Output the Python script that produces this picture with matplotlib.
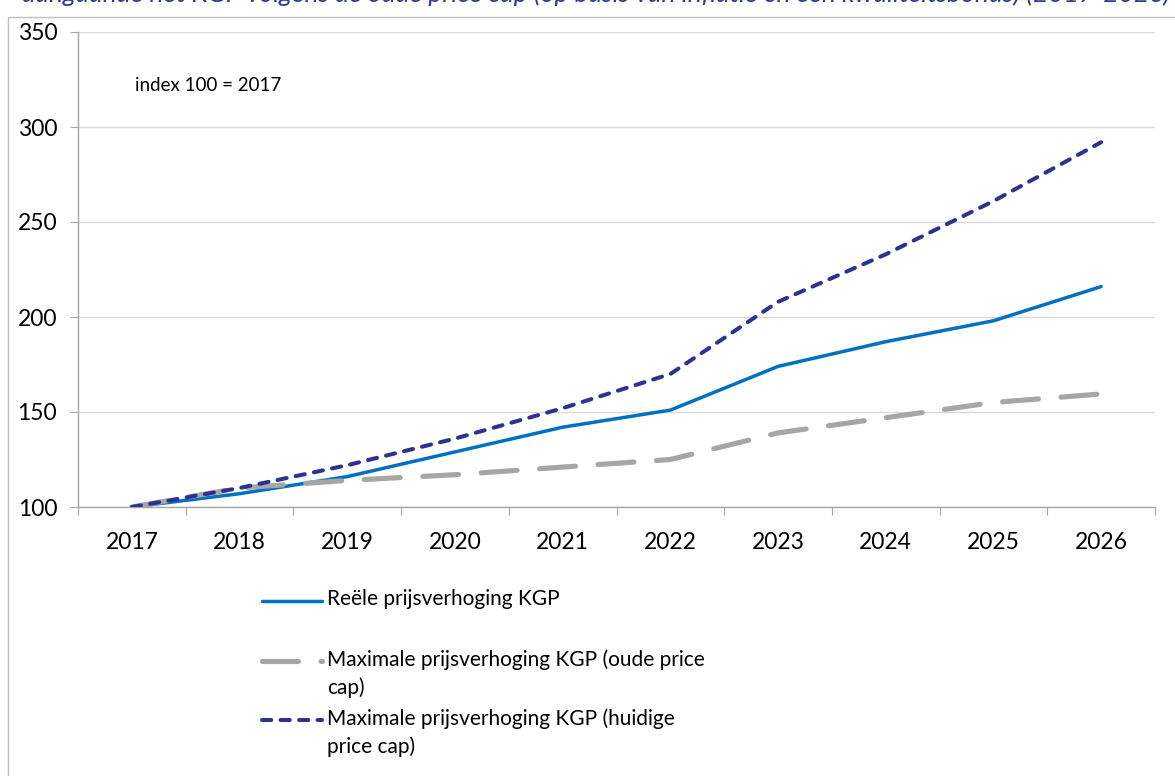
import numpy as np
import matplotlib
matplotlib.use("Agg")
import matplotlib.pyplot as plt
from matplotlib.lines import Line2D
from matplotlib.patches import Rectangle

plt.rcParams['font.family'] = ['Lato', 'DejaVu Sans']

years = ['2017', '2018', '2019', '2020', '2021', '2022', '2023', '2024', '2025', '2026']
reeel = [100, 107, 116, 129, 142, 151, 174, 187, 198, 216]
oude = [100, 110, 114, 117, 121, 125, 139, 147, 155, 159.5]
huidige = [100, 110, 122, 136, 152, 170, 208, 233, 261, 292]

labels = ['Reële prijsverhoging KGP',
          'Maximale prijsverhoging KGP (oude price\ncap)',
          'Maximale prijsverhoging KGP (huidige\nprice cap)']
title = 'aangaande het KGP volgens de oude price cap (op basis van inflatie en een kwaliteitsbonus) (2017-2026)'

W, H = 1175, 776
fig = plt.figure(figsize=(W / 100, H / 100), dpi=100)

def fx(px):
    return px / W

def fy(py):
    return 1 - py / H

# outer border
fig.add_artist(Rectangle((fx(8), fy(1000)), fx(1300), fy(17) - fy(1000),
                         transform=fig.transFigure, fill=False,
                         edgecolor='#BFBFBF', linewidth=1.0))

fig.text(fx(22), fy(2), title, fontsize=19, style='italic', color='#2B3A8F',
         ha='left', va='baseline')

ax = fig.add_axes([fx(78), fy(507), fx(1155) - fx(78), fy(32) - fy(507)])
x = np.arange(len(years))

c_blue = '#0070C0'
c_gray = '#A6A6A6'
c_navy = '#2E3192'

s_blue = dict(color=c_blue, linewidth=2.5, solid_capstyle='round')
s_gray = dict(color=c_gray, linewidth=3.7, dashes=(7.0, 4.4), dash_capstyle='round')
s_navy = dict(color=c_navy, linewidth=2.9, dashes=(2.3, 2.3), dash_capstyle='round')

ax.plot(x, reeel, zorder=3, **s_blue)
ax.plot(x, oude, zorder=4, **s_gray)
ax.plot(x, huidige, zorder=5, **s_navy)

ax.set_xlim(-0.5, len(years) - 0.5)
ax.set_ylim(100, 350)
ax.set_yticks([100, 150, 200, 250, 300, 350])
ax.yaxis.grid(True, color='#D9D9D9', linewidth=1)
ax.set_axisbelow(True)

ax.set_xticks(np.arange(-0.5, len(years), 1))
ax.set_xticklabels([])
ax.set_xticks(x, minor=True)
ax.set_xticklabels(years, minor=True)
ax.tick_params(axis='x', which='minor', length=0, pad=18, labelsize=16.5)
ax.tick_params(axis='x', which='major', length=6, color='#A6A6A6', direction='out')
ax.tick_params(axis='y', length=6, color='#A6A6A6', direction='out', pad=9, labelsize=16.5)

for s in ['top', 'right']:
    ax.spines[s].set_visible(False)
for s in ['left', 'bottom']:
    ax.spines[s].set_color('#A6A6A6')
    ax.spines[s].set_linewidth(1)

ax.text(0.03, 322, 'index 100 = 2017', fontsize=13.5, ha='left', va='center', color='#000000')

# legend (manual)
entries = [
    (labels[0], s_blue, 601),
    (labels[1], s_gray, 661),
    (labels[2], s_navy, 720),
]
for lab, style, py in entries:
    fig.add_artist(Line2D([fx(262), fx(322)], [fy(py), fy(py)], transform=fig.transFigure, **style))
    fig.text(fx(327), fy(py - 12), lab, fontsize=15, ha='left', va='top',
             linespacing=1.45, transform=fig.transFigure)

fig.savefig('out.png', dpi=100)
